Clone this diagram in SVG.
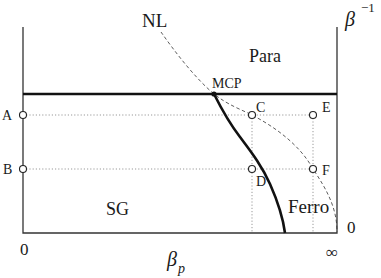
<svg xmlns="http://www.w3.org/2000/svg" width="381" height="278" viewBox="0 0 381 278">
<style>
.axis{stroke:#333;stroke-width:1.3;fill:none}
.thick{stroke:#111;stroke-width:2.6;fill:none}
.dot{stroke:#999;stroke-width:1;stroke-dasharray:1.2,2;fill:none}
.nl{stroke:#333;stroke-width:0.8;stroke-dasharray:3.5,2.5;fill:none}
.pt{stroke:#222;stroke-width:1.1;fill:#fff}
.lbl{font-size:14px}
.reg{font-size:18px}
.it{font-style:italic}
</style>
<rect width="381" height="278" fill="#fff"/>
<g id="axes">
<path class="axis" d="M23,27V233H337V27"/>
</g>
<g id="connectors">
<path class="dot" d="M23,115H313M23,169H313M252,115V233M313,115V233"/>
<path class="nl" d="M161,32C175,52 195,78 214,94C228,105 240,109 252,115C275,127 300,145 313,169C327,190 337,208 337,232"/>
<path class="thick" d="M23,94H337"/>
<path class="thick" d="M214,94C222,110 230,124 240,137C252,153 262,166 270,184C278,202 283,218 285,233"/>
</g>
<g font-family="'Liberation Serif', Tinos, 'Times New Roman', 'DejaVu Serif', serif" fill="#1a1a1a">
<g id="MCP"><circle cx="214" cy="94" r="2.6" fill="#111"/><text class="lbl" x="212" y="88">MCP</text></g>
<g id="A"><circle class="pt" cx="23" cy="115" r="3.5"/><text class="lbl" x="2" y="120">A</text></g>
<g id="B"><circle class="pt" cx="23" cy="169" r="3.5"/><text class="lbl" x="3" y="174">B</text></g>
<g id="C"><circle class="pt" cx="252" cy="115" r="3.5"/><text class="lbl" x="256" y="112">C</text></g>
<g id="D"><circle class="pt" cx="252" cy="169" r="3.5"/><text class="lbl" x="256" y="186">D</text></g>
<g id="E"><circle class="pt" cx="313" cy="115" r="3.5"/><text class="lbl" x="322" y="112">E</text></g>
<g id="F"><circle class="pt" cx="313" cy="169" r="3.5"/><text class="lbl" x="322" y="175">F</text></g>
<g id="labels">
<text x="142" y="27" font-size="19">NL</text>
<text class="reg" x="249" y="62">Para</text>
<text class="reg" x="106" y="215">SG</text>
<text x="288" y="213" font-size="19">Ferro</text>
<text x="20" y="255" font-size="17">0</text>
<text x="347" y="233" font-size="17">0</text>
<text x="332" y="258" font-size="17" text-anchor="middle">∞</text>
<text class="it" x="167" y="266" font-size="20">β</text>
<text class="it" x="178" y="273" font-size="14">p</text>
<text class="it" x="345" y="26" font-size="20">β</text>
<text x="361" y="12" font-size="13">−1</text>
</g>
</g>
</svg>
